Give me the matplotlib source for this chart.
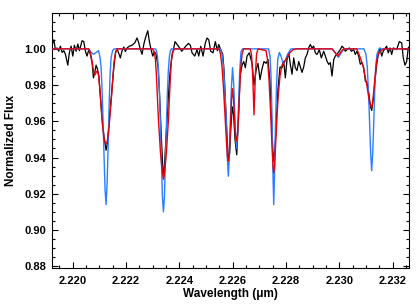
import matplotlib
matplotlib.use("Agg")
import matplotlib.pyplot as plt
from matplotlib.ticker import MultipleLocator, FormatStrFormatter

plt.rcParams['font.family'] = ['Liberation Sans', 'DejaVu Sans']
plt.rcParams['font.weight'] = 'bold'

black_wl = [2.219224, 2.219288, 2.219348, 2.219411, 2.219475, 2.219535, 2.219599, 2.219663,
            2.219723, 2.219813, 2.219873, 2.219936, 2.220000, 2.220060, 2.220124, 2.220188,
            2.220248, 2.220349, 2.220413, 2.220473, 2.220536, 2.220600, 2.220660, 2.220724,
            2.220773, 2.220825, 2.220874, 2.220923, 2.220975, 2.221024, 2.221099, 2.221174,
            2.221249, 2.221286, 2.221343, 2.221399, 2.221455, 2.221511, 2.221549, 2.221605,
            2.221661, 2.221785, 2.221849, 2.221913, 2.221973, 2.222036, 2.222123, 2.222224,
            2.222325, 2.222411, 2.222475, 2.222535, 2.222599, 2.222663, 2.222723, 2.222813,
            2.222873, 2.222936, 2.223000, 2.223060, 2.223124, 2.223199, 2.223255, 2.223311,
            2.223368, 2.223405, 2.223443, 2.223499, 2.223555, 2.223611, 2.223668, 2.223724,
            2.223836, 2.223960, 2.224088, 2.224211, 2.224335, 2.224410, 2.224474, 2.224575,
            2.224661, 2.224725, 2.224800, 2.224886, 2.224973, 2.225036, 2.225100, 2.225175,
            2.225261, 2.225348, 2.225423, 2.225475, 2.225550, 2.225625, 2.225674, 2.225730,
            2.225786, 2.225835, 2.225880, 2.225936, 2.225985, 2.226030, 2.226086, 2.226150,
            2.226218, 2.226274, 2.226349, 2.226413, 2.226473, 2.226536, 2.226623, 2.226724,
            2.226799, 2.226874, 2.226949, 2.227024, 2.227099, 2.227174, 2.227249, 2.227324,
            2.227399, 2.227455, 2.227500, 2.227538, 2.227586, 2.227643, 2.227699, 2.227774,
            2.227849, 2.227913, 2.227973, 2.228036, 2.228100, 2.228160, 2.228224, 2.228288,
            2.228348, 2.228411, 2.228475, 2.228535, 2.228599, 2.228663, 2.228723, 2.228786,
            2.228850, 2.228910, 2.228974, 2.229038, 2.229098, 2.229161, 2.229248, 2.229323,
            2.229413, 2.229473, 2.229536, 2.229600, 2.229660, 2.229724, 2.229788, 2.229848,
            2.229949, 2.230035, 2.230099, 2.230163, 2.230223, 2.230286, 2.230373, 2.230448,
            2.230538, 2.230598, 2.230661, 2.230725, 2.230785, 2.230849, 2.230913, 2.230973,
            2.231036, 2.231111, 2.231168, 2.231213, 2.231273, 2.231336, 2.231400, 2.231460,
            2.231524, 2.231588, 2.231648, 2.231775, 2.231835, 2.231899, 2.231963, 2.232023,
            2.232150, 2.232248, 2.232338, 2.232398, 2.232461, 2.232525, 2.232585, 2.232611]
black_flux = [1.0024, 1.0050, 0.9996, 1.0005, 0.9987, 1.0015, 0.9980, 0.9990,
              0.9970, 0.9910, 0.9980, 1.0015, 0.9960, 1.0020, 0.9987, 1.0027,
              0.9990, 1.0045, 1.0040, 0.9987, 0.9960, 0.9996, 0.9970, 0.9924,
              0.9840, 0.9870, 0.9910, 0.9890, 0.9850, 0.9760, 0.9620, 0.9510,
              0.9440, 0.9470, 0.9560, 0.9660, 0.9750, 0.9850, 0.9910, 0.9980,
              1.0000, 0.9950, 0.9990, 1.0010, 0.9985, 1.0005, 1.0015, 1.0020,
              1.0033, 1.0060, 1.0033, 0.9996, 0.9970, 1.0024, 1.0060, 1.0100,
              1.0040, 0.9996, 0.9960, 0.9985, 0.9970, 0.9900, 0.9750, 0.9550,
              0.9370, 0.9285, 0.9360, 0.9520, 0.9660, 0.9800, 0.9900, 0.9960,
              1.0040, 1.0015, 0.9987, 1.0010, 1.0030, 1.0020, 0.9978, 0.9960,
              0.9996, 0.9960, 1.0014, 0.9960, 1.0033, 1.0060, 1.0050, 0.9987,
              0.9978, 1.0040, 0.9990, 1.0024, 0.9996, 0.9970, 0.9880, 0.9700,
              0.9520, 0.9390, 0.9420, 0.9580, 0.9680, 0.9640, 0.9500, 0.9415,
              0.9620, 0.9850, 0.9910, 0.9930, 0.9896, 0.9960, 0.9978, 0.9920,
              0.9800, 0.9880, 0.9920, 0.9830, 0.9890, 0.9930, 0.9920, 0.9940,
              0.9820, 0.9620, 0.9450, 0.9380, 0.9450, 0.9620, 0.9780, 0.9900,
              0.9896, 0.9930, 0.9840, 0.9940, 0.9978, 0.9915, 0.9860, 0.9950,
              0.9896, 0.9880, 0.9930, 0.9900, 0.9870, 0.9900, 0.9950, 0.9969,
              1.0005, 1.0024, 1.0005, 1.0015, 0.9978, 0.9969, 0.9996, 0.9950,
              0.9987, 0.9960, 0.9933, 0.9914, 0.9924, 0.9850, 0.9940, 0.9960,
              0.9978, 0.9996, 1.0015, 1.0005, 0.9987, 0.9996, 1.0005, 0.9987,
              0.9996, 0.9969, 0.9987, 0.9960, 0.9915, 0.9924, 0.9896, 0.9823,
              0.9815, 0.9750, 0.9680, 0.9660, 0.9720, 0.9823, 0.9914, 0.9969,
              1.0005, 0.9960, 0.9987, 1.0015, 0.9978, 1.0005, 0.9969, 1.0005,
              0.9996, 1.0040, 1.0033, 0.9950, 0.9910, 0.9930, 1.0005, 1.0010]

# red model
red_wl = [2.219224, 2.220600, 2.220660, 2.220724, 2.220773, 2.220825, 2.220874, 2.220923,
          2.220975, 2.221024, 2.221099, 2.221174, 2.221249, 2.221286, 2.221343, 2.221399,
          2.221455, 2.221511, 2.221549, 2.221605, 2.221661,
          2.222988, 2.223063, 2.223100, 2.223138, 2.223175, 2.223213, 2.223250, 2.223288,
          2.223325, 2.223363, 2.223400, 2.223438, 2.223475, 2.223513, 2.223550, 2.223588,
          2.223625, 2.223663, 2.223700, 2.223738, 2.223813,
          2.225486, 2.225543, 2.225599, 2.225655, 2.225711, 2.225768, 2.225805, 2.225835,
          2.225873, 2.225918, 2.225955, 2.225993, 2.226030, 2.226068, 2.226113, 2.226150,
          2.226188, 2.226236, 2.226293, 2.226349, 2.226405,
          2.226649, 2.226705, 2.226750, 2.226799, 2.226848, 2.226893, 2.226949,
          2.227249, 2.227305, 2.227361, 2.227418, 2.227474, 2.227511, 2.227538, 2.227568,
          2.227605, 2.227661, 2.227710, 2.227774, 2.227849, 2.227935, 2.228036, 2.228149,
          2.228261, 2.228374,
          2.229724, 2.229836, 2.229938, 2.230043, 2.230155,
          2.230650, 2.230710, 2.230811, 2.230898, 2.230961, 2.231025, 2.231074, 2.231123,
          2.231168, 2.231213, 2.231243, 2.231273, 2.231306, 2.231336, 2.231400, 2.231460,
          2.231524, 2.231674, 2.232611]
red_flux = [1.000, 1.000, 0.998, 0.993, 0.988, 0.9855, 0.987, 0.988,
            0.985, 0.976, 0.960, 0.950, 0.9475, 0.948, 0.954, 0.964,
            0.974, 0.986, 0.993, 0.998, 1.000,
            1.000, 0.998, 0.994, 0.985, 0.973, 0.961, 0.952, 0.943,
            0.937, 0.932, 0.928, 0.932, 0.937, 0.943, 0.952, 0.961,
            0.973, 0.985, 0.994, 0.998, 1.000,
            1.000, 0.997, 0.990, 0.978, 0.963, 0.948, 0.940, 0.938,
            0.942, 0.958, 0.972, 0.978, 0.972, 0.960, 0.950, 0.949,
            0.955, 0.970, 0.988, 0.997, 1.000,
            1.000, 0.997, 0.985, 0.9636, 0.985, 0.997, 1.000,
            0.999, 0.994, 0.983, 0.966, 0.946, 0.935, 0.9315, 0.935,
            0.946, 0.963, 0.975, 0.985, 0.991, 0.993, 0.995, 0.998,
            0.9995, 1.000,
            1.000, 0.998, 0.996, 0.998, 1.000,
            1.000, 0.998, 0.994, 0.990, 0.985, 0.9805, 0.976, 0.9714,
            0.969, 0.9675, 0.970, 0.974, 0.979, 0.984, 0.9932, 0.997,
            0.9987, 1.000, 1.000]

# blue model
blue_wl = [2.219224, 2.220574, 2.220686, 2.220780, 2.220874, 2.220968, 2.221024, 2.221061,
           2.221099, 2.221136, 2.221174, 2.221211, 2.221249, 2.221286, 2.221324, 2.221361,
           2.221399, 2.221436, 2.221493, 2.221549,
           2.223100, 2.223138, 2.223175, 2.223213, 2.223250, 2.223288, 2.223325, 2.223363,
           2.223400, 2.223438, 2.223475, 2.223513, 2.223550, 2.223588, 2.223625, 2.223663,
           2.223700,
           2.225524, 2.225599, 2.225655, 2.225711, 2.225760, 2.225798, 2.225835, 2.225873,
           2.225910, 2.225948, 2.225993, 2.226038, 2.226075, 2.226113, 2.226150, 2.226188,
           2.226225, 2.226263, 2.226311, 2.226368,
           2.227343, 2.227399, 2.227436, 2.227474, 2.227511, 2.227538, 2.227568, 2.227605,
           2.227643, 2.227688, 2.227748, 2.227811, 2.227886, 2.227961, 2.228055, 2.228186,
           2.229724, 2.229836, 2.229968, 2.230080, 2.230174,
           2.230924, 2.230999, 2.231048, 2.231093, 2.231138, 2.231175, 2.231213, 2.231250,
           2.231288, 2.231325, 2.231363, 2.231411, 2.231486, 2.232611]
blue_flux = [1.000, 1.000, 0.998, 0.997, 0.998, 0.999, 0.995, 0.990,
             0.977, 0.960, 0.940, 0.922, 0.914, 0.925, 0.945, 0.968,
             0.986, 0.995, 0.999, 1.000,
             1.000, 0.999, 0.996, 0.989, 0.976, 0.958, 0.938, 0.918,
             0.910, 0.918, 0.938, 0.958, 0.976, 0.989, 0.996, 0.999,
             1.000,
             1.000, 0.997, 0.990, 0.975, 0.959, 0.940, 0.9297, 0.940,
             0.960, 0.978, 0.9896, 0.980, 0.965, 0.950, 0.945, 0.955,
             0.972, 0.988, 0.9985, 1.000,
             1.000, 0.996, 0.985, 0.963, 0.930, 0.914, 0.930, 0.958,
             0.980, 0.994, 0.998, 0.996, 0.992, 0.993, 0.997, 1.000,
             1.000, 0.998, 0.9953, 0.998, 1.000,
             1.000, 0.997, 0.990, 0.976, 0.958, 0.942, 0.9327, 0.942,
             0.958, 0.976, 0.990, 0.997, 1.000, 1.000]

x_ticks = [2.220, 2.222, 2.224, 2.226, 2.228, 2.230, 2.232]
y_ticks = [0.88, 0.90, 0.92, 0.94, 0.96, 0.98, 1.00]

fig = plt.figure(figsize=(4.16, 3.05), dpi=100)
ax = fig.add_axes([0.125, 0.1213, 0.858, 0.8361])

ax.plot(black_wl, black_flux, color='black', lw=0.9, zorder=2)
ax.plot(blue_wl, blue_flux, color='#2a7fff', lw=1.0, zorder=3)
ax.plot(red_wl, red_flux, color='#e8000b', lw=1.0, zorder=4)

ax.set_xlim(2.21922, 2.23261)
ax.set_ylim(0.879, 1.0198)
ax.set_xticks(x_ticks)
ax.set_yticks(y_ticks)
ax.xaxis.set_minor_locator(MultipleLocator(0.0005))
ax.yaxis.set_minor_locator(MultipleLocator(0.005))
ax.xaxis.set_major_formatter(FormatStrFormatter('%.3f'))
ax.yaxis.set_major_formatter(FormatStrFormatter('%.2f'))

ax.tick_params(which='both', direction='in', top=True, right=True, width=0.8,
               labelsize=8)
ax.tick_params(which='major', length=4)
ax.tick_params(which='minor', length=2.2)
ax.tick_params(axis='x', pad=5.5)
ax.tick_params(axis='y', pad=4)
for lab in ax.get_xticklabels() + ax.get_yticklabels():
    lab.set_fontweight('bold')
for s in ax.spines.values():
    s.set_linewidth(0.8)

ax.set_xlabel('Wavelength (\u03bcm)', fontsize=8.5, fontweight='bold', labelpad=1.5)
ax.set_ylabel('Normalized Flux', fontsize=8.5, fontweight='bold')
ax.yaxis.set_label_coords(-0.098, 0.5)

fig.savefig('out.png', dpi=100)
